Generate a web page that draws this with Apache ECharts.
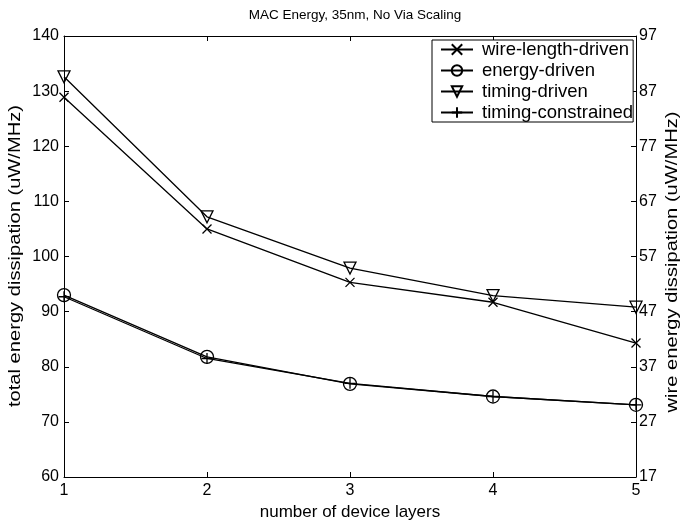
<!DOCTYPE html>
<html>
<head>
<meta charset="utf-8">
<script src="https://cdn.jsdelivr.net/npm/echarts@6/dist/echarts.min.js"></script>
<style>
  html, body { margin: 0; padding: 0; background: #fff; }
  #chart { width: 683px; height: 525px; }
</style>
</head>
<body>
<div id="chart"></div>
<script>
// Number of device layers (x axis)
const layers = [1, 2, 3, 4, 5];

// Total energy dissipation (uW/MHz) per placement strategy
const wireLengthDriven   = [128.9, 105.0, 95.3, 91.7, 84.3];
const energyDriven       = [93.0, 81.8, 76.9, 74.6, 73.1];
const timingDriven       = [132.6, 107.2, 97.9, 92.9, 90.8];
const timingConstrained  = [92.7, 81.5, 77.0, 74.6, 73.1];

// Right-hand axis tick labels (wire energy dissipation)
const wireTickStart = 17;
const wireTickStep = 10;

// Axis titles
const leftTitle = 'total energy dissipation (uW/MHz)';
const rightTitle = 'wire energy dissipation (uW/MHz)';

const font = 'Liberation Sans, Arial, Helvetica, sans-serif';

// Marker outlines
const SYM_X = 'path://M0,0L10,10M10,0L0,10';
const SYM_PLUS = 'path://M5,0L5,10M0,5L10,5';
const SYM_TRI = 'path://M0,0L10,0L5,9Z';
const SYM_CIRCLE = 'path://M10,5A5,5 0 1 1 0,5A5,5 0 1 1 10,5Z';

function pairs(vals) {
  return layers.map((x, i) => [x, vals[i]]);
}

function lineSeries(name, vals, symbol, size) {
  return {
    name: name,
    type: 'line',
    data: pairs(vals),
    symbol: symbol,
    symbolSize: size,
    showAllSymbol: true,
    lineStyle: { color: '#000', width: 1.3 },
    itemStyle: { color: 'rgba(0,0,0,0)', borderColor: '#000', borderWidth: 1.3 },
    emphasis: { disabled: true },
    animation: false,
    z: 3
  };
}

// Vertical axis title, stretched slightly along its reading direction
function sideTitle(text, x, y) {
  return {
    type: 'text',
    x: x,
    y: y,
    rotation: Math.PI / 2,
    scaleX: 1.22,
    scaleY: 1,
    style: {
      text: text,
      fontFamily: font,
      fontSize: 16.5,
      fill: '#000',
      align: 'center',
      verticalAlign: 'middle'
    }
  };
}

const chart = echarts.init(document.getElementById('chart'), null, { renderer: 'canvas' });

chart.setOption({
  backgroundColor: '#fff',
  animation: false,
  title: {
    text: 'MAC Energy, 35nm, No Via Scaling',
    left: 350,
    textAlign: 'center',
    top: 3,
    textStyle: { fontFamily: font, fontSize: 13.5, fontWeight: 'normal', color: '#000' }
  },
  grid: { left: 64, right: 47, top: 36, bottom: 48, containLabel: false, outerBoundsMode: 'none' },
  graphic: [
    sideTitle(leftTitle, 15, 256),
    sideTitle(rightTitle, 672, 262)
  ],
  legend: {
    left: 432,
    top: 40,
    orient: 'vertical',
    backgroundColor: '#fff',
    borderColor: '#000',
    borderWidth: 1,
    padding: [0, 0, 0, 8],
    itemWidth: 32,
    itemHeight: 13,
    itemGap: 2,
    textStyle: { fontFamily: font, fontSize: 18.5, color: '#000', padding: [0, 0, 0, 4] },
    data: ['wire-length-driven', 'energy-driven', 'timing-driven', 'timing-constrained']
  },
  xAxis: [
    {
      type: 'value',
      min: 1, max: 5, interval: 1,
      name: 'number of device layers',
      nameLocation: 'middle',
      nameGap: 27,
      nameTextStyle: { fontFamily: font, fontSize: 17, color: '#000' },
      axisLine: { onZero: false, lineStyle: { color: '#000', width: 1 } },
      axisTick: { inside: true, length: 5, lineStyle: { color: '#000' } },
      axisLabel: { fontFamily: font, fontSize: 16, color: '#000', margin: 6 },
      splitLine: { show: false }
    },
    {
      type: 'value',
      position: 'top',
      min: 1, max: 5, interval: 1,
      axisLine: { onZero: false, lineStyle: { color: '#000', width: 1 } },
      axisTick: { inside: true, length: 5, lineStyle: { color: '#000' } },
      axisLabel: { show: false },
      splitLine: { show: false }
    }
  ],
  yAxis: [
    {
      type: 'value',
      min: 60, max: 140, interval: 10,
      axisLine: { onZero: false, lineStyle: { color: '#000', width: 1 } },
      axisTick: { inside: true, length: 5, lineStyle: { color: '#000' } },
      axisLabel: { fontFamily: font, fontSize: 16, color: '#000', margin: 5 },
      splitLine: { show: false }
    },
    {
      type: 'value',
      position: 'right',
      min: 0, max: 80, interval: wireTickStep,
      axisLine: { onZero: false, lineStyle: { color: '#000', width: 1 } },
      axisTick: { inside: true, length: 5, lineStyle: { color: '#000' } },
      axisLabel: {
        fontFamily: font, fontSize: 16, color: '#000', margin: 3,
        formatter: v => String(v + wireTickStart)
      },
      splitLine: { show: false }
    }
  ],
  series: [
    lineSeries('wire-length-driven', wireLengthDriven, SYM_X, 9),
    lineSeries('energy-driven', energyDriven, SYM_CIRCLE, 13),
    lineSeries('timing-driven', timingDriven, SYM_TRI, 12),
    lineSeries('timing-constrained', timingConstrained, SYM_PLUS, 11)
  ]
});
</script>
</body>
</html>
